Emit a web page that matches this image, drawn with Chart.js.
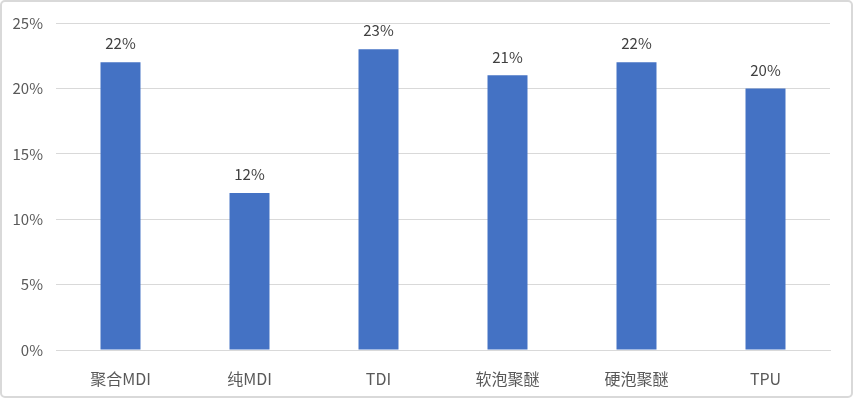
<!DOCTYPE html>
<html>
<head>
<meta charset="utf-8">
<script src="https://cdn.jsdelivr.net/npm/chart.js@4/dist/chart.umd.min.js"></script>
<style>
  body { margin: 0; background: #fff; }
</style>
</head>
<body>
<canvas id="chart" width="853" height="398"></canvas>
<script>
const categories = ['聚合MDI', '纯MDI', 'TDI', '软泡聚醚', '硬泡聚醚', 'TPU'];
const values = [22, 12, 23, 21, 22, 20];
const yTicks = [0, 5, 10, 15, 20, 25];

const font = '"Noto Sans CJK SC", "Noto Sans", sans-serif';

// white background + light frame round the whole chart
const frame = {
  id: 'frame',
  beforeDraw(chart) {
    const ctx = chart.ctx;
    ctx.save();
    ctx.fillStyle = '#fff';
    ctx.fillRect(0, 0, chart.width, chart.height);
    ctx.strokeStyle = '#d9d9d9';
    ctx.lineWidth = 2;
    ctx.beginPath();
    ctx.roundRect(1, 1, chart.width - 2, chart.height - 2, 4);
    ctx.stroke();
    ctx.restore();
  }
};

// value labels above the bars
const barLabels = {
  id: 'barLabels',
  afterDatasetsDraw(chart) {
    const ctx = chart.ctx;
    const meta = chart.getDatasetMeta(0);
    ctx.save();
    ctx.font = '15px ' + font;
    ctx.fillStyle = '#404040';
    ctx.textAlign = 'center';
    ctx.textBaseline = 'bottom';
    meta.data.forEach((bar, i) => {
      ctx.fillText(values[i] + '%', bar.x, bar.y - 11);
    });
    ctx.restore();
  }
};

new Chart(document.getElementById('chart'), {
  type: 'bar',
  data: {
    labels: categories,
    datasets: [{
      data: values,
      backgroundColor: '#4472C4',
      barPercentage: 0.31,
      categoryPercentage: 1
    }]
  },
  options: {
    responsive: false,
    animation: false,
    layout: { padding: { top: 23, right: 23, bottom: 0, left: 0 } },
    plugins: { legend: { display: false }, tooltip: { enabled: false } },
    scales: {
      x: {
        grid: { display: false },
        border: { color: '#d9d9d9', width: 1 },
        ticks: { color: '#595959', font: { family: font, size: 16 }, padding: 11, maxRotation: 0 },
        afterFit(s) { s.height = 48; }
      },
      y: {
        min: 0,
        max: 25,
        afterBuildTicks(s) { s.ticks = yTicks.map(v => ({ value: v })); },
        grid: { color: '#d9d9d9', drawTicks: false },
        border: { display: false },
        ticks: {
          color: '#595959',
          font: { family: font, size: 15 },
          padding: 13,
          callback: v => v + '%'
        },
        afterFit(s) { s.width = 56; }
      }
    }
  },
  plugins: [frame, barLabels]
});
</script>
</body>
</html>
